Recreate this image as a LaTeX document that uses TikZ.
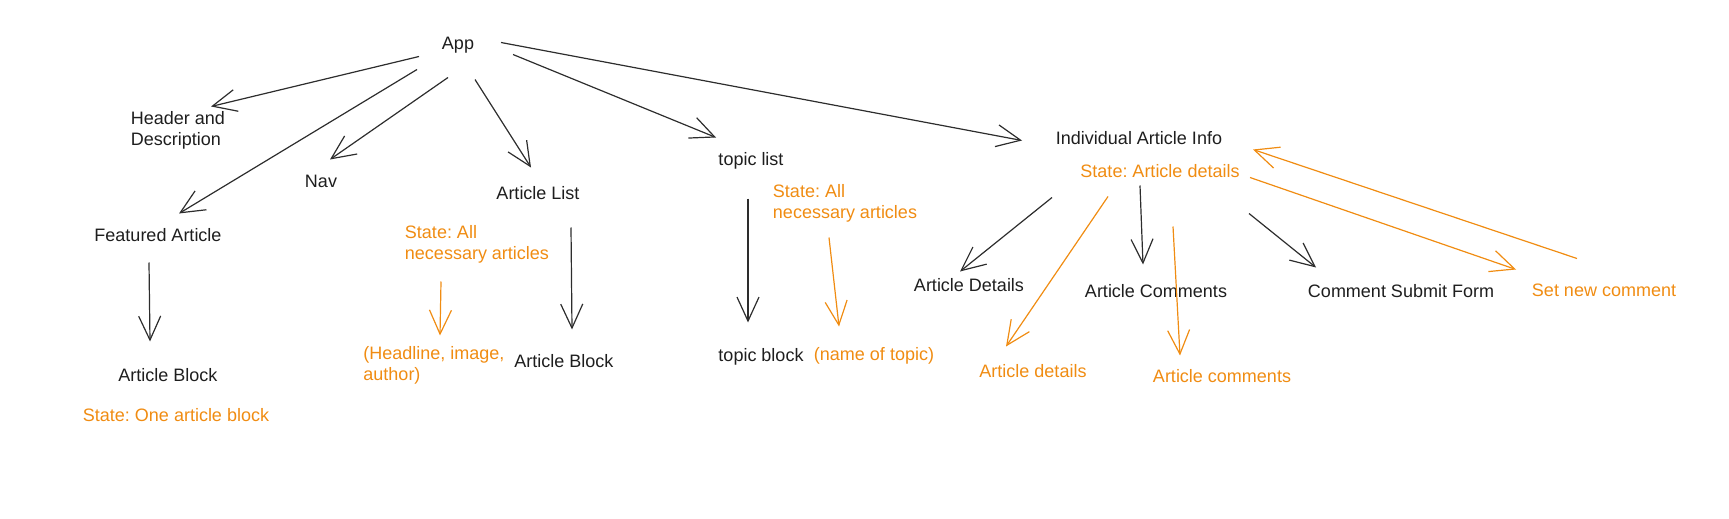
\documentclass[tikz,border=0pt]{standalone}
\usepackage{fontspec}
\setmainfont{Liberation Sans}
\usetikzlibrary{arrows.meta}
\frenchspacing
\definecolor{ink}{RGB}{30,30,30}
\definecolor{lnk}{RGB}{45,45,45}
\definecolor{org}{RGB}{240,140,18}
\tikzset{
  lbl/.style={inner sep=0pt, text=ink, font=\fontsize{18}{21}\selectfont, align=left, yshift=-2.5pt},
  olbl/.style={lbl, text=org},
  arr/.style={draw=lnk, line width=1.2pt, -{Straight Barb[length=24pt,width=22pt,line width=1.2pt]}},
  oarr/.style={arr, draw=org},
}
\begin{document}
\begin{tikzpicture}[x=1pt,y=-1pt]
\useasboundingbox (0,0) rectangle (1729,519);
% black labels
\node[lbl] (app) at (458,43) {App};
\node[lbl] (hdr) at (178,128) {Header and\\Description};
\node[lbl] (nav) at (321,179) {Nav};
\node[lbl] (alist) at (538,191) {Article List};
\node[lbl] (tlist) at (751,158) {topic list};
\node[lbl] (iai) at (1139,136) {Individual Article Info};
\node[lbl] (feat) at (158,233) {Featured Article};
\node[lbl] (ab1) at (168,373) {Article Block};
\node[lbl] (ab2) at (564,359) {Article Block};
\node[lbl] (tblock) at (761,354) {topic block};
\node[lbl] (adet) at (969,283) {Article Details};
\node[lbl] (acom) at (1156,289) {Article Comments};
\node[lbl] (csf) at (1401,289) {Comment Submit Form};
% orange labels
\node[olbl] (st1) at (176,413) {State: One article block};
\node[olbl] (st2) at (477,242) {State: All\\necessary articles};
\node[olbl] (head) at (434,363) {(Headline, image,\\author)};
\node[olbl] (st3) at (845,201) {State: All\\necessary articles};
\node[olbl] (name) at (874,353) {(name of topic)};
\node[olbl] (st4) at (1160,169) {State: Article details};
\node[olbl] (adet2) at (1033,369) {Article details};
\node[olbl] (acom2) at (1222,374) {Article comments};
\node[olbl] (snc) at (1604,288) {Set new comment};
% black connectors
\draw[arr] ([shift={(-39,11)}]app.center) -- ([shift={(33,-24)}]hdr.center);
\draw[arr] ([shift={(-41,24)}]app.center) -- ([shift={(21,-22)}]feat.center);
\draw[arr] ([shift={(-10,32)}]app.center) -- ([shift={(9,-22)}]nav.center);
\draw[arr] ([shift={(17,34)}]app.center) -- ([shift={(-7,-26)}]alist.center);
\draw[arr] ([shift={(55,9)}]app.center) -- ([shift={(-35,-23)}]tlist.center);
\draw[arr] ([shift={(43,-3)}]app.center) -- ([shift={(-117,2)}]iai.center);
\draw[arr] ([shift={(-9,27)}]feat.center) -- ([shift={(-18,-34)}]ab1.center);
\draw[arr] ([shift={(33,34)}]alist.center) -- ([shift={(8,-32)}]ab2.center);
\draw[arr] ([shift={(-3,38)}]tlist.center) -- ([shift={(-13,-34)}]tblock.center);
\draw[arr] ([shift={(-87,59)}]iai.center) -- ([shift={(-9,-14)}]adet.center);
\draw[arr] ([shift={(1,47)}]iai.center) -- ([shift={(-13,-27)}]acom.center);
\draw[arr] ([shift={(110,75)}]iai.center) -- ([shift={(-85,-24)}]csf.center);
% orange connectors
\draw[oarr] ([shift={(-36,37)}]st2.center) -- ([shift={(6,-30)}]head.center);
\draw[oarr] ([shift={(-16,34)}]st3.center) -- ([shift={(-35,-29)}]name.center);
\draw[oarr] ([shift={(-52,25)}]st4.center) -- ([shift={(-27,-25)}]adet2.center);
\draw[oarr] ([shift={(13,55)}]st4.center) -- ([shift={(-42,-21)}]acom2.center);
\draw[oarr] ([shift={(90,6)}]st4.center) -- ([shift={(-88,-21)}]snc.center);
\draw[oarr] ([shift={(-27,-32)}]snc.center) -- ([shift={(114,11)}]iai.center);
\end{tikzpicture}
\end{document}
